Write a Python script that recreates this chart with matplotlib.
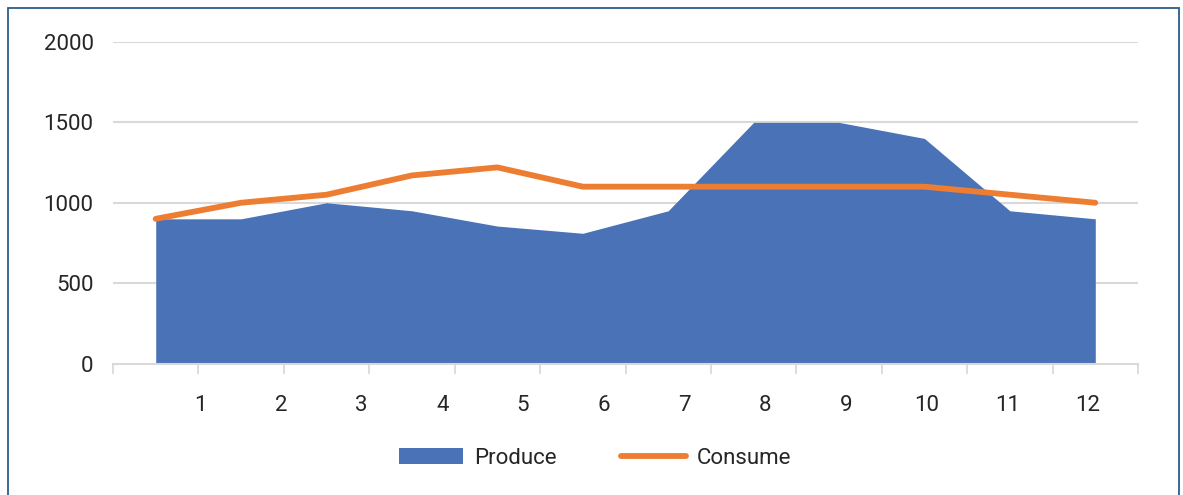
import matplotlib
matplotlib.use("Agg")
import matplotlib.pyplot as plt
import numpy as np
from matplotlib.patches import Rectangle, Patch
from matplotlib.lines import Line2D

# ---- data ----
months = ["1", "2", "3", "4", "5", "6", "7", "8", "9", "10", "11", "12"]
produce = [900, 900, 1000, 950, 855, 810, 950, 1500, 1500, 1400, 950, 900]
consume = [900, 1000, 1050, 1170, 1220, 1100, 1100, 1100, 1100, 1100, 1050, 1000]
y_ticks = [0, 500, 1000, 1500, 2000]

plt.rcParams['font.family'] = ['Roboto', 'DejaVu Sans']

W, H = 1183, 495
fig = plt.figure(figsize=(W / 100, H / 100), dpi=100)
ax = fig.add_axes([113 / W, 1 - 363.5 / H, (1138 - 113) / W, (363.5 - 42) / H])

x = np.arange(len(months))
blue = '#4A72B7'
orange = '#ED7D31'
grid_c = '#D9D9D9'

ax.fill_between(x, produce, 0, color=blue, linewidth=0, zorder=2)
ax.plot(x, consume, color=orange, linewidth=4.2, solid_capstyle='round',
        solid_joinstyle='round', zorder=3)

ax.set_xlim(-0.5, len(months) - 0.5)
ax.set_ylim(0, 2000)

# y axis
ax.set_yticks(y_ticks)
ax.set_yticklabels([str(v) for v in y_ticks], fontsize=16, color='#262626')
ax.tick_params(axis='y', length=0, pad=14)
for v in y_ticks[1:]:
    ax.axhline(v, color=grid_c, linewidth=1.5, zorder=1)

# x axis: tick marks at category boundaries, labels with own spacing
ax.set_xticks(np.arange(len(months) + 1) - 0.5)
ax.set_xticklabels([])
ax.tick_params(axis='x', which='major', length=7.5, width=1.3, color=grid_c)
label_pos = [0.519 + 0.945 * i for i in range(len(months))]
ax.set_xticks(label_pos, minor=True)
ax.set_xticklabels(months, minor=True, fontsize=16, color='#262626')
ax.tick_params(axis='x', which='minor', length=0, pad=23)

for s in ['left', 'right', 'top']:
    ax.spines[s].set_visible(False)
ax.spines['bottom'].set_color(grid_c)
ax.spines['bottom'].set_linewidth(1.5)
ax.spines['bottom'].set_zorder(4)

# legend
handles = [Patch(facecolor=blue, edgecolor='none', label='Produce'),
           Line2D([0], [0], color=orange, linewidth=4.2, solid_capstyle='round', label='Consume')]
fig.legend(handles=handles, loc='center', bbox_to_anchor=(595 / W, 1 - 458 / H),
           ncol=2, frameon=False, fontsize=16, handlelength=2.9, handleheight=0.75,
           handletextpad=0.5, columnspacing=2.9, labelcolor='#262626')

# outer border
fig.patches.append(Rectangle((7.5 / W, -0.05), (1179 - 7.5) / W, 1.05 - 7.5 / H,
                             transform=fig.transFigure, fill=False,
                             edgecolor='#2F5A8C', linewidth=1.3))

fig.savefig('out.png', dpi=100)
